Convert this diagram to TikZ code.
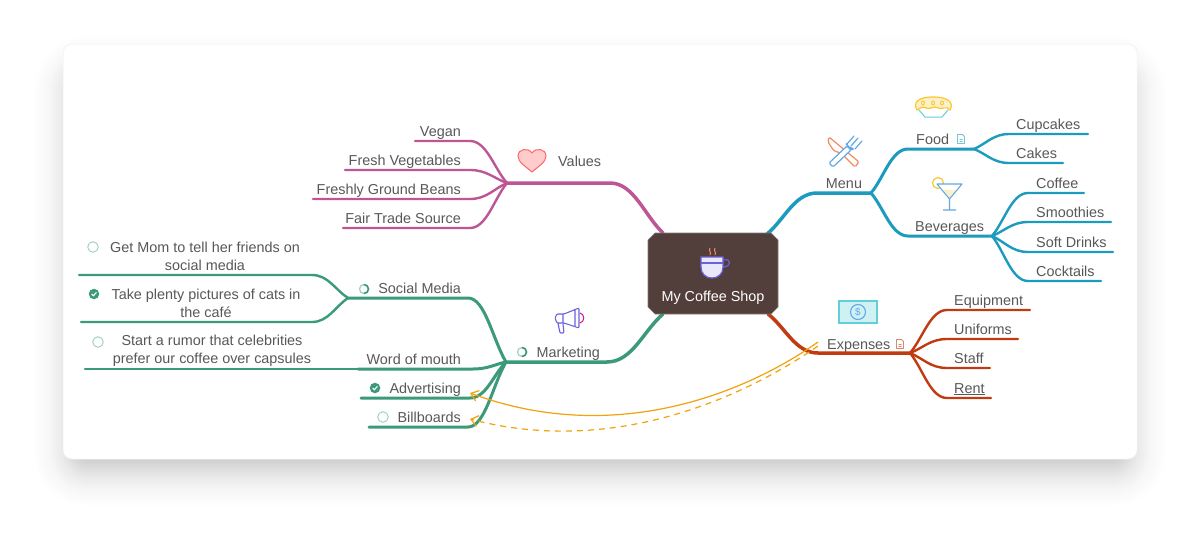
\documentclass[tikz,border=0pt]{standalone}
\usepackage{fontspec}
\setmainfont{Liberation Sans}
\usetikzlibrary{calc,arrows.meta}

\definecolor{menuBlue}{HTML}{1C9BBF}
\definecolor{valueRose}{HTML}{BE5595}
\definecolor{marketGreen}{HTML}{3B9A78}
\definecolor{costRed}{HTML}{C23B10}
\definecolor{linkAmber}{HTML}{F2A20C}
\definecolor{coreBrown}{HTML}{523E3A}
\definecolor{inkGrey}{HTML}{585858}
\definecolor{softGreen}{HTML}{A5D2C2}
\definecolor{iconBlue}{HTML}{62A9E6}
\definecolor{iconOrange}{HTML}{F58B5C}
\definecolor{iconViolet}{HTML}{6A62DC}
\definecolor{iconYellow}{HTML}{F9C82E}
\definecolor{iconCream}{HTML}{FDF0C8}
\definecolor{iconTeal}{HTML}{62CFD8}

\tikzset{
	lbl/.style={text=inkGrey,inner sep=0pt,font=\fontsize{14.4}{18}\selectfont},
	first/.style={line width=3.5pt,line cap=round},
	second/.style={line width=3pt,line cap=round},
	leaf/.style={line width=2.4pt,line cap=round},
	todo/.style={circle,draw=softGreen,line width=1pt,minimum size=10.5pt,inner sep=0pt},
	partly/.style={circle,draw=softGreen,line width=1.3pt,minimum size=9pt,inner sep=0pt},
	done/.style={circle,fill=marketGreen,minimum size=10.5pt,inner sep=0pt},
	relation/.style={linkAmber,line width=1.2pt,-{Straight Barb[length=7pt,width=11pt]}},
}

\newcommand{\limb}[4][]{\draw[#1] (#2) .. controls ($(#2)!.35!(#3)$) and ($(#3)!.45!(#2|-#3)$) .. (#3) -- (#4);}
\newcommand{\docmark}[3]{\draw[#3!60!white,line width=.9pt,line join=round,shift={(#1,#2)}] (-3.5,-4.5) -- (1.5,-4.5) -- (3.5,-2.5) -- (3.5,4.5) -- (-3.5,4.5) -- cycle (-1.5,.5) -- (1.5,.5) (-1.5,2.5) -- (1.5,2.5);}
\newcommand{\tickmark}[1]{\draw[white,line width=1.1pt] ($(#1)+(-2.3,0)$) -- ($(#1)+(-.6,1.7)$) -- ($(#1)+(2.4,-1.6)$);}
\newcommand{\partmark}[1]{\draw[marketGreen,line width=1.6pt] ($(#1)+(0,-4.500)$) arc[start angle=90,end angle=-90,radius=4.500pt];}

\begin{document}
\begin{tikzpicture}[x=1pt,y=-1pt]
	\useasboundingbox (0,0) rectangle (1200,554);

	% sheet and its shadow
	\foreach \d in {0,2,...,50} {
		\pgfmathsetmacro{\shade}{.0136*(1-\d/52)}
		\fill[black,opacity=\shade,rounded corners={(\d+10)*1pt}] (78-\d,80-\d) rectangle (1122+\d,462+\d);
	}
	\draw[black!6,fill=white,line width=.5pt,rounded corners=9pt] (63,44) rectangle (1137,459);

	\coordinate (menuRoot) at (767,234);
	\coordinate (valuesRoot) at (663,233);
	\coordinate (marketingRoot) at (663,314);
	\coordinate (expensesRoot) at (768,314);

	% Menu
	\coordinate (menuStart) at (817,193);
	\coordinate (menuJoin) at (871,193);
	\limb[first,menuBlue]{menuRoot}{menuStart}{menuJoin}
	\node[lbl,anchor=base] (menu) at (844,188) {Menu};
	\coordinate (foodStart) at (908,149);
	\coordinate (foodJoin) at (974,149);
	\limb[second,menuBlue]{menuJoin}{foodStart}{foodJoin}
	\node[lbl,anchor=base west] (food) at (916,144) {Food};
	\docmark{961}{139}{menuBlue}
	\coordinate (beveragesStart) at (908,236);
	\coordinate (beveragesJoin) at (992,236);
	\limb[second,menuBlue]{menuJoin}{beveragesStart}{beveragesJoin}
	\node[lbl,anchor=base west] (beverages) at (915,231.500) {Beverages};
	\foreach \name/\txt/\y/\tip in {cupcakes/Cupcakes/134/1088,cakes/Cakes/163/1063} {
		\coordinate (\name Start) at (1009,\y);
		\coordinate (\name End) at (\tip,\y);
		\limb[leaf,menuBlue]{foodJoin}{\name Start}{\name End}
		\node[lbl,anchor=base west] (\name) at (1016,\y-5) {\txt};
	}
	\foreach \name/\txt/\y/\tip in {coffee/Coffee/193/1084,smoothies/Smoothies/222/1111,softDrinks/Soft Drinks/252/1113,cocktails/Cocktails/281/1101} {
		\coordinate (\name Start) at (1028,\y);
		\coordinate (\name End) at (\tip,\y);
		\limb[leaf,menuBlue]{beveragesJoin}{\name Start}{\name End}
		\node[lbl,anchor=base west] (\name) at (1036,\y-5) {\txt};
	}

	% Values
	\coordinate (valuesStart) at (610,183);
	\coordinate (valuesJoin) at (507,183);
	\limb[first,valueRose]{valuesRoot}{valuesStart}{valuesJoin}
	\node[lbl,anchor=base west] (values) at (558,166.500) {Values};
	\foreach \name/\txt/\y/\tip in {vegan/Vegan/141/415,freshVeg/Fresh Vegetables/170/345,groundBeans/Freshly Ground Beans/199/313,fairTrade/Fair Trade Source/228/343} {
		\coordinate (\name Start) at (470,\y);
		\coordinate (\name End) at (\tip,\y);
		\limb[leaf,valueRose]{valuesJoin}{\name Start}{\name End}
		\node[lbl,anchor=base east] (\name) at (461,\y-5) {\txt};
	}

	% Marketing
	\coordinate (marketingStart) at (607,362);
	\coordinate (marketingJoin) at (506,362);
	\limb[first,marketGreen]{marketingRoot}{marketingStart}{marketingJoin}
	\node[lbl,anchor=base west] (marketing) at (536.500,357) {Marketing};
	\node[partly] (marketingMark) at (522,352) {};
	\partmark{marketingMark}
	\coordinate (socialStart) at (468,298);
	\coordinate (socialJoin) at (348,298);
	\limb[second,marketGreen]{marketingJoin}{socialStart}{socialJoin}
	\node[lbl,anchor=base east] (social) at (461,293.500) {Social Media};
	\node[partly] (socialMark) at (364,289) {};
	\partmark{socialMark}
	\coordinate (mouthStart) at (473,369);
	\coordinate (mouthJoin) at (358,369);
	\coordinate (rumorEnd) at (85,369);
	\limb[second,marketGreen]{marketingJoin}{mouthStart}{mouthJoin}
	\draw[leaf,marketGreen] (mouthJoin) -- (rumorEnd);
	\node[lbl,anchor=base east] (mouth) at (461,364) {Word of mouth};
	\coordinate (adsStart) at (470,398);
	\coordinate (adsEnd) at (361,398);
	\limb[second,marketGreen]{marketingJoin}{adsStart}{adsEnd}
	\node[lbl,anchor=base east] (ads) at (461,393) {Advertising};
	\node[done] (adsMark) at (375,388) {};
	\tickmark{adsMark}
	\coordinate (boardsStart) at (468,427);
	\coordinate (boardsEnd) at (369,427);
	\limb[second,marketGreen]{marketingJoin}{boardsStart}{boardsEnd}
	\node[lbl,anchor=base east] (boards) at (461,422) {Billboards};
	\node[todo] (boardsMark) at (383,417) {};
	\foreach \name/\y/\tip in {mom/275/79,cats/322/81} {
		\coordinate (\name Start) at (312,\y);
		\coordinate (\name End) at (\tip,\y);
		\limb[leaf,marketGreen]{socialJoin}{\name Start}{\name End}
	}
	\node[lbl,align=center] (mom) at (205,256.500) {Get Mom to tell her friends on\\social media};
	\node[todo] (momMark) at (93,247) {};
	\node[lbl,align=center] (cats) at (206,303.500) {Take plenty pictures of cats in\\the café};
	\node[done] (catsMark) at (94,294) {};
	\tickmark{catsMark}
	\node[lbl,align=center] (rumor) at (212,351) {Start a rumor that celebrities\\prefer our coffee over capsules};
	\node[todo] (rumorMark) at (98,342) {};

	% Expenses
	\coordinate (expensesStart) at (818,353);
	\coordinate (expensesJoin) at (910,353);
	\limb[first,costRed]{expensesRoot}{expensesStart}{expensesJoin}
	\node[lbl,anchor=base west] (expenses) at (827,349) {Expenses};
	\docmark{900}{344}{costRed}
	\foreach \name/\txt/\y/\tip in {equipment/Equipment/310/1030,uniforms/Uniforms/339/1018,staff/Staff/368/990,rent/\underline{Rent}/398/991} {
		\coordinate (\name Start) at (947,\y);
		\coordinate (\name End) at (\tip,\y);
		\limb[leaf,costRed]{expensesJoin}{\name Start}{\name End}
		\node[lbl,anchor=base west] (\name) at (954,\y-5) {\txt};
	}

	% links
	\coordinate (solidFrom) at (818,342);
	\coordinate (solidTo) at (470,393);
	\coordinate (dashFrom) at (818,346);
	\coordinate (dashTo) at (470,419);
	\draw[relation] (solidFrom) .. controls (740,397) and (610,445) .. (solidTo);
	\draw[relation,dash pattern=on 6pt off 5pt] (dashFrom) .. controls (740,400) and (610,456) .. (dashTo);

	% central topic
	\draw[fill=coreBrown,draw=coreBrown!70!white,line width=.6pt] (655,233) -- (771,233) -- (778,240) -- (778,307) -- (771,314) -- (655,314) -- (648,307) -- (648,240) -- cycle;
	\node[lbl,text=white,anchor=base] (coreText) at (713,301) {My Coffee Shop};

	% cup
	\draw[iconViolet,fill=iconViolet!15!white,line width=1.2pt] (701,257) -- (723,257) -- (723,267) .. controls (723,274) and (718,278) .. (712,278) .. controls (706,278) and (701,274) .. (701,267) -- cycle;
	\draw[iconViolet,line width=1.2pt] (701,263) -- (723,263);
	\draw[iconViolet,line width=1.2pt] (724,260) .. controls (731,258) and (732,267) .. (723,267);
	\draw[iconOrange,line width=1pt] (710,248) .. controls (708,251) and (712,252) .. (710,255) (715,248) .. controls (713,251) and (717,252) .. (715,255);

	% knife and fork
	\draw[iconOrange,fill=white,line width=1.2pt,rounded corners=1.5pt] (829,137) -- (859,162) -- (855,167) -- (841,153) -- (834,151) -- (828,142) -- cycle;
	\draw[iconBlue,fill=white,line width=1.2pt,rounded corners=1.5pt] (829,163) -- (847,146) -- (851,150) -- (833,167) -- cycle;
	\draw[iconBlue,fill=white,line width=1.2pt,rounded corners=1pt] (847,146) -- (846,143) -- (851,150) -- (854,149) -- cycle;
	\foreach \x/\y in {847/136,851/138,855/141}
		\draw[iconBlue,line width=1.2pt,line cap=round] (\x,\y+8) -- (\x+7,\y);

	% pie
	\draw[iconTeal,line width=1pt] (919,110) -- (925,117) -- (942,117) -- (948,110);
	\draw[iconYellow,fill=iconCream,line width=1.2pt] (917,110) .. controls (913,103) and (917,97) .. (933,97) .. controls (949,97) and (954,103) .. (950,110) .. controls (946,105) and (942,110) .. (938,108) .. controls (934,105) and (930,110) .. (926,108) .. controls (923,106) and (920,108) .. (917,110) -- cycle;
	\foreach \x in {923,933,942}
		\draw[iconYellow,line width=.9pt] (\x,103) ellipse[x radius=1.500pt,y radius=2pt];

	% martini
	\draw[iconYellow,line width=1.2pt] (938,183) circle[radius=5.500pt];
	\fill[white] (937,184) -- (962,184) -- (949.500,199) -- cycle;
	\fill[iconCream] (943,190) .. controls (947,188) and (952,192) .. (956,190) -- (949.500,198) -- cycle;
	\draw[iconBlue,line width=1.1pt,line join=round] (937,184) -- (962,184) -- (949.500,199) -- cycle (949.500,199) -- (949.500,210) (943,210) -- (956,210);

	% heart
	\draw[red!60!white,fill=red!20!white,line width=1pt] (532,172) .. controls (525,166) and (518,162) .. (518,156) .. controls (518,149) and (528,147) .. (532,153) .. controls (536,147) and (546,149) .. (546,156) .. controls (546,162) and (539,166) .. (532,172) -- cycle;

	% megaphone
	\draw[magenta!80!violet,line width=1pt] (580,313) .. controls (585,314) and (585,322) .. (580,323);
	\draw[iconViolet,line width=1.1pt,line join=round,rounded corners=1pt] (579,308) -- (564,314) -- (557,314) -- (555,318) -- (557,323) -- (564,323) -- (579,328) -- cycle (575,310) -- (575,326) (563,314) -- (563,323) (558,323) -- (560,333) -- (564,333) -- (563,324);

	% banknote
	\draw[iconTeal,fill=iconTeal!30!white,line width=1.2pt] (839,301) rectangle (877,323);
	\draw[iconBlue,line width=1.1pt] (858,312) circle[radius=7.500pt];
	\node[text=iconBlue,inner sep=0pt,font=\fontsize{10}{10}\selectfont] (dollarSign) at (858,312) {\$};
\end{tikzpicture}
\end{document}
